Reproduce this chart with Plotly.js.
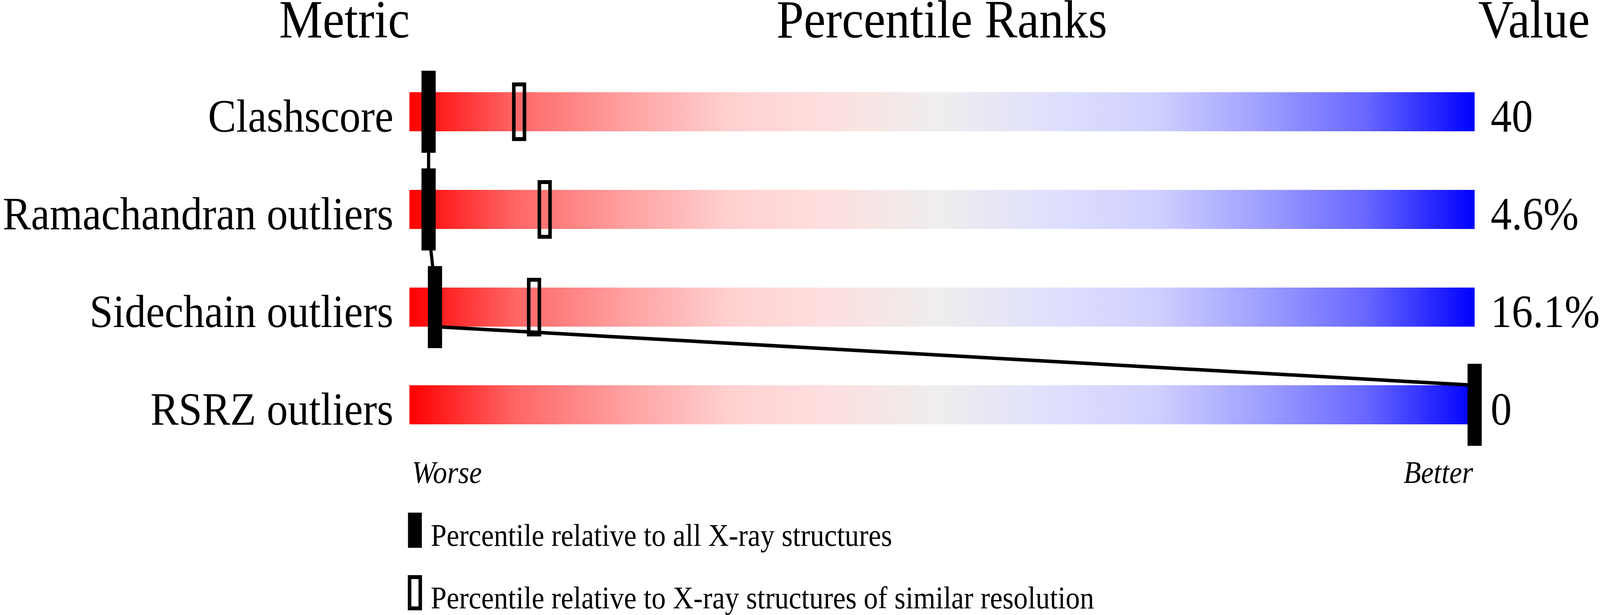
<!DOCTYPE html>
<html>
<head>
<meta charset="utf-8">
<script src="https://cdn.plot.ly/plotly-3.0.1.min.js"></script>
<style>
  html, body { margin: 0; padding: 0; background: #ffffff; overflow: hidden; }
  #chart { width: 4506px; height: 1574px; transform-origin: 0 0; }
</style>
</head>
<body>
<div id="chart"></div>
<script>
// chart values
const metrics = ['Clashscore', 'Ramachandran outliers', 'Sidechain outliers', 'RSRZ outliers']
const metricValues = ['40', '4.6%', '16.1%', '0']
const percentileAll = [1.8, 1.8, 2.4, 100]          // relative to all X-ray structures
const percentileSimilar = [10.3, 12.7, 11.7, null]  // relative to similar resolution
const percentileRange = [0, 100]
const legendLabels = [
  'Percentile relative to all X-ray structures',
  'Percentile relative to X-ray structures of similar resolution',
]

// drawn at 4506 x 1574, then stretched to whatever the window really is
const W = 4506, H = 1574
const chartDiv = document.getElementById('chart')
chartDiv.style.transform =
  'scale(' + (window.innerWidth / W) + ',' + (window.innerHeight / H) + ')'

const ML = 1153, MR = 353, MT = 161, MB = 413
const PW = W - ML - MR, PH = H - MT - MB
const px = p => (p - ML) / PW
const py = p => (H - MB - p) / PH
const serif = 'Liberation Serif, Times New Roman, serif'
const half = 0.2              // half bar height in row units
const labelDrop = 9 / 250     // tick labels sit a little below the row centre

const rows = metrics.map((_, i) => i)

// gradient bars
const bars = rows.map(i => ({
  type: 'scatter',
  x: [percentileRange[0], percentileRange[1], percentileRange[1], percentileRange[0], percentileRange[0]],
  y: [i - half, i - half, i + half, i + half, i - half],
  mode: 'none',
  fill: 'toself',
  fillgradient: {
    type: 'horizontal',
    start: percentileRange[0],
    stop: percentileRange[1],
    colorscale: [
      [0, '#ff0000'], [0.1, '#ff6666'], [0.2, '#ff9f9f'], [0.3, '#ffd0d0'], [0.38, '#ffdddd'],
      [0.5, '#eeeeee'],
      [0.62, '#ddddff'], [0.7, '#d0d0ff'], [0.8, '#9f9fff'], [0.9, '#6666ff'], [1, '#0000ff'],
    ],
  },
  hoverinfo: 'skip',
}))

// connecting line: from the bottom of one bar to the top of the next
const lineX = [], lineY = []
rows.forEach(i => {
  if (i > 0) { lineX.push(percentileAll[i]); lineY.push(i - half) }
  if (i < rows.length - 1) { lineX.push(percentileAll[i]); lineY.push(i + half) }
})
const link = {
  type: 'scatter',
  x: lineX,
  y: lineY,
  mode: 'lines',
  line: { color: '#000000', width: 9 },
  cliponaxis: false,
  hoverinfo: 'skip',
}

const allMarks = {
  type: 'scatter',
  x: percentileAll,
  y: rows,
  mode: 'markers',
  marker: { symbol: 'line-ns', size: 150, line: { color: '#000000', width: 40 } },
  cliponaxis: false,
  name: legendLabels[0],
}

// invisible trace so the right-hand value axis is drawn
const valueAxisHolder = {
  type: 'scatter',
  x: percentileAll,
  y: rows,
  yaxis: 'y2',
  mode: 'markers',
  marker: { opacity: 0 },
  hoverinfo: 'skip',
}

// open markers as pixel-sized rectangles
const shapes = []
percentileSimilar.forEach((v, i) => {
  if (v === null) return
  shapes.push({
    type: 'rect', xref: 'x', yref: 'y',
    xsizemode: 'pixel', ysizemode: 'pixel',
    xanchor: v, yanchor: i,
    x0: -15, x1: 15, y0: -70, y1: 70,
    line: { color: '#000000', width: 10 },
    fillcolor: 'rgba(0,0,0,0)',
    layer: 'above',
  })
})
// legend glyphs
shapes.push({
  type: 'rect', xref: 'paper', yref: 'paper',
  xsizemode: 'pixel', ysizemode: 'pixel',
  xanchor: px(1168.5), yanchor: py(1357),
  x0: -19.5, x1: 19.5, y0: -45, y1: 45,
  line: { width: 0 }, fillcolor: '#000000',
})
shapes.push({
  type: 'rect', xref: 'paper', yref: 'paper',
  xsizemode: 'pixel', ysizemode: 'pixel',
  xanchor: px(1168.5), yanchor: py(1517),
  x0: -15, x1: 15, y0: -40, y1: 40,
  line: { color: '#000000', width: 10 }, fillcolor: 'rgba(0,0,0,0)',
})

// text placed by its baseline
const note = (text, x, base, size, xanchor, italic) => ({
  text, xref: 'paper', yref: 'paper', x: px(x), y: py(base - 0.3375 * size),
  xanchor, yanchor: 'middle', showarrow: false, borderpad: 0,
  font: { family: serif, size, color: '#000000', style: italic ? 'italic' : 'normal' },
})

const annotations = [
  note('Metric', 970, 96, 138, 'center'),
  note('Percentile Ranks', 2652, 96, 138, 'center'),
  note('Value', 4320, 96, 138, 'center'),
  note('Worse', 1159, 1236, 80, 'left', true),
  note('Better', 4150, 1236, 80, 'right', true),
  note(legendLabels[0], 1212, 1397, 80, 'left'),
  note(legendLabels[1], 1212, 1557, 80, 'left'),
]

const yBase = {
  range: [rows.length - 0.5, -0.5],
  tickvals: rows.map(i => i + labelDrop),
  showgrid: false, zeroline: false, showline: false, ticks: '',
  tickfont: { family: serif, size: 119, color: '#000000' },
  ticklabelstandoff: 44,
  fixedrange: true,
}

const layout = {
  width: W, height: H,
  margin: { l: ML, r: MR, t: MT, b: MB, pad: 0 },
  paper_bgcolor: '#ffffff',
  plot_bgcolor: '#ffffff',
  showlegend: false,
  xaxis: { range: percentileRange, visible: false, fixedrange: true },
  yaxis: { ...yBase, ticktext: metrics },
  yaxis2: { ...yBase, ticktext: metricValues, overlaying: 'y', side: 'right' },
  shapes,
  annotations,
}

Plotly.newPlot(chartDiv, [...bars, link, allMarks, valueAxisHolder], layout, {
  displayModeBar: false,
  staticPlot: true,
})
</script>
</body>
</html>
